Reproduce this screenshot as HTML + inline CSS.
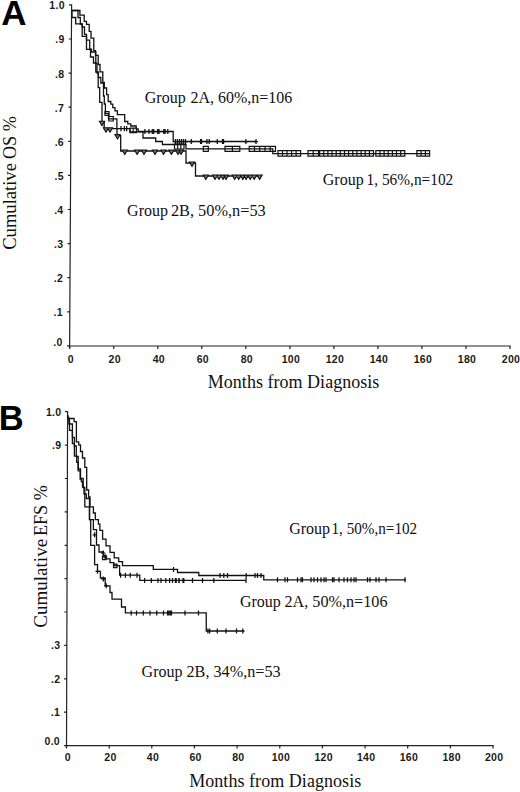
<!DOCTYPE html>
<html><head><meta charset="utf-8"><style>
html,body{margin:0;padding:0;background:#fff;width:520px;height:792px;overflow:hidden}
svg{display:block}
.big{font-family:"Liberation Sans",sans-serif;font-weight:bold;font-size:35px;fill:#000}
.bigb{font-family:"Liberation Sans",sans-serif;font-weight:bold;font-size:34.5px;fill:#000}
.tk{font-family:"Liberation Sans",sans-serif;font-size:10.5px;font-weight:bold;letter-spacing:0.3px;fill:#1a1a1a}
.ttl{font-family:"Liberation Serif",serif;font-size:18px;fill:#111}
.yt{font-family:"Liberation Serif",serif;font-size:19px;fill:#111}
.grp{font-family:"Liberation Serif",serif;font-size:16px;fill:#111}
.c{fill:none;stroke:#111;stroke-width:1.3}
.ax{fill:none;stroke:#222;stroke-width:1.2}
.m{fill:none;stroke:#111;stroke-width:1.25}
.sqm{fill:none;stroke:#111;stroke-width:1.2}
.trm{fill:#777;stroke:#111;stroke-width:1.1}
</style></head><body>
<svg width="520" height="792" viewBox="0 0 520 792">

<text class="big" x="1.3" y="25">A</text>
<text class="bigb" x="-1.2" y="430">B</text>
<path class="ax" d="M71.6,4.5 L69.6,348.5 M69.0,346 H510.6"/>
<path class="ax" d="M67.0,345.9 H69.6 M67.2,311.8 H69.8 M67.4,277.7 H70.0 M67.6,243.6 H70.2 M67.8,209.5 H70.4 M68.0,175.4 H70.6 M68.2,141.3 H70.8 M68.4,107.2 H71.0 M68.6,73.1 H71.2 M68.8,39.0 H71.4 M69.0,4.9 H71.6 M69.7,346 V349 M113.7,346 V349 M157.8,346 V349 M201.8,346 V349 M245.8,346 V349 M289.9,346 V349 M333.9,346 V349 M377.9,346 V349 M421.9,346 V349 M466.0,346 V349 M510.0,346 V349"/>
<text class="tk" x="62.7" y="345.7" text-anchor="end">.0</text>
<text class="tk" x="62.9" y="316.2" text-anchor="end">.1</text>
<text class="tk" x="63.1" y="282.1" text-anchor="end">.2</text>
<text class="tk" x="63.3" y="248.0" text-anchor="end">.3</text>
<text class="tk" x="63.5" y="213.9" text-anchor="end">.4</text>
<text class="tk" x="63.8" y="179.8" text-anchor="end">.5</text>
<text class="tk" x="64.0" y="145.7" text-anchor="end">.6</text>
<text class="tk" x="64.2" y="111.6" text-anchor="end">.7</text>
<text class="tk" x="64.4" y="77.5" text-anchor="end">.8</text>
<text class="tk" x="64.6" y="43.4" text-anchor="end">.9</text>
<text class="tk" x="64.8" y="9.3" text-anchor="end">1.0</text>
<text class="tk" x="70.7" y="363.2" text-anchor="middle">0</text>
<text class="tk" x="114.7" y="363.2" text-anchor="middle">20</text>
<text class="tk" x="158.8" y="363.2" text-anchor="middle">40</text>
<text class="tk" x="202.8" y="363.2" text-anchor="middle">60</text>
<text class="tk" x="246.8" y="363.2" text-anchor="middle">80</text>
<text class="tk" x="290.9" y="363.2" text-anchor="middle">100</text>
<text class="tk" x="334.9" y="363.2" text-anchor="middle">120</text>
<text class="tk" x="378.9" y="363.2" text-anchor="middle">140</text>
<text class="tk" x="422.9" y="363.2" text-anchor="middle">160</text>
<text class="tk" x="467.0" y="363.2" text-anchor="middle">180</text>
<text class="tk" x="511.0" y="363.2" text-anchor="middle">200</text>
<text class="ttl" x="207.8" y="387.6" textLength="171.5">Months from Diagnosis</text>
<text class="yt" transform="translate(15.6,249.8) rotate(-90)" textLength="86.7" lengthAdjust="spacingAndGlyphs">Cumulative</text>
<text class="yt" transform="translate(15.6,159.1) rotate(-90)" textLength="42.9" lengthAdjust="spacingAndGlyphs">OS&#160;%</text>
<path class="ax" d="M67.6,411 L66.5,748 M66,745.6 H493.6"/>
<path class="ax" d="M63.9,745.6 H66.5 M64.0,712.2 H66.6 M64.1,678.8 H66.7 M64.2,645.4 H66.8 M64.3,612.0 H66.9 M64.5,578.6 H67.0 M64.6,545.3 H67.2 M64.7,511.9 H67.3 M64.8,478.5 H67.4 M64.9,445.1 H67.5 M65.0,411.7 H67.6 M66.5,745.6 V748.6 M109.2,745.6 V748.6 M151.8,745.6 V748.6 M194.4,745.6 V748.6 M237.1,745.6 V748.6 M279.8,745.6 V748.6 M322.4,745.6 V748.6 M365.1,745.6 V748.6 M407.7,745.6 V748.6 M450.4,745.6 V748.6 M493.0,745.6 V748.6"/>
<text class="tk" x="60.0" y="745.2" text-anchor="end">0.0</text>
<text class="tk" x="60.1" y="716.2" text-anchor="end">.1</text>
<text class="tk" x="60.3" y="682.8" text-anchor="end">.2</text>
<text class="tk" x="60.4" y="649.4" text-anchor="end">.3</text>
<text class="tk" x="61.3" y="449.1" text-anchor="end">.9</text>
<text class="tk" x="61.4" y="416.2" text-anchor="end">1.0</text>
<text class="tk" x="67.7" y="761.3" text-anchor="middle">0</text>
<text class="tk" x="110.4" y="761.3" text-anchor="middle">20</text>
<text class="tk" x="153.0" y="761.3" text-anchor="middle">40</text>
<text class="tk" x="195.6" y="761.3" text-anchor="middle">60</text>
<text class="tk" x="238.3" y="761.3" text-anchor="middle">80</text>
<text class="tk" x="280.9" y="761.3" text-anchor="middle">100</text>
<text class="tk" x="323.6" y="761.3" text-anchor="middle">120</text>
<text class="tk" x="366.2" y="761.3" text-anchor="middle">140</text>
<text class="tk" x="408.9" y="761.3" text-anchor="middle">160</text>
<text class="tk" x="451.6" y="761.3" text-anchor="middle">180</text>
<text class="tk" x="494.2" y="761.3" text-anchor="middle">200</text>
<text class="ttl" x="189.2" y="787.3" textLength="172">Months from Diagnosis</text>
<text class="yt" transform="translate(47.3,627.7) rotate(-90)" textLength="88.8" lengthAdjust="spacingAndGlyphs">Cumulative</text>
<text class="yt" transform="translate(47.3,536) rotate(-90)" textLength="50.7" lengthAdjust="spacingAndGlyphs">EFS&#160;%</text>
<text class="grp" x="144.8" y="102.8">Group</text>
<text class="grp" x="190.5" y="102.8" textLength="101.8" lengthAdjust="spacingAndGlyphs">2A, 60%,n=106</text>
<text class="grp" x="322.8" y="185">Group</text>
<text class="grp" x="366.6" y="185" textLength="86.7" lengthAdjust="spacingAndGlyphs">1, 56%,n=102</text>
<text class="grp" x="127.1" y="215.5">Group</text>
<text class="grp" x="170.9" y="215.5" textLength="94.9" lengthAdjust="spacingAndGlyphs">2B, 50%,n=53</text>
<text class="grp" x="289.2" y="533.8">Group</text>
<text class="grp" x="331.5" y="533.8" textLength="85.7" lengthAdjust="spacingAndGlyphs">1, 50%,n=102</text>
<text class="grp" x="239.9" y="607">Group</text>
<text class="grp" x="284.5" y="607" textLength="103" lengthAdjust="spacingAndGlyphs">2A, 50%,n=106</text>
<text class="grp" x="141.6" y="677">Group</text>
<text class="grp" x="186.5" y="677" textLength="94.2" lengthAdjust="spacingAndGlyphs">2B, 34%,n=53</text>
<path class="c" d="M72,10.5 H79.9 V15.2 H84.2 V21.3 H86.5 V24.4 H89.2 V31.3 H91 V38.2 H93.8 V50.7 H95.5 V55.3 H98.2 V64.5 H100 V71.8 H102.8 V82.3 H104.3 V88 H106.6 V94.6 H108.2 V101.5 H110.8 V104.2 H112.8 V107.7 H115 V110.8 H117.4 V114.6 H124.7 V121.5 H127.8 V123.8 H130.8 V126 H136.2 V128.8 H138.2 V131.5 H173.2 V141.5 H256.6"/>
<path class="c" d="M72,10.5 H78 V17.5 H80.3 V24 H82.2 V27 H84.5 V34.4 H86.5 V40.2 H89.7 V49.2 H91.5 V52 H95.8 V63.4 H97 V73 H98.4 V77.5 H100.8 V83 H103.5 V96 H104.3 V104 H105.4 V113.5 H108.5 V118.8 H116.9 V128.7 H130 V131.8 H143 V138 H155.7 V141.5 H162.4 V144.5 H186 V148.8 H272.8 V153.6 H429.6"/>
<path class="c" d="M72,10.5 V17.5 H75.7 V23.8 H82.2 V36.3 H86.5 V49.4 H90.5 V57 H93.5 V63 H95.8 V72 H98.2 V87.7 H99.7 V102.3 H102 V122.5 H104.2 V128.7 H117 V135.6 H120.7 V151 H186 V163 H195.5 V176 H261.5"/>
<path class="m" d="M121.0,126.1 V131.3 M124.4,126.1 V131.3 M126.7,126.1 V131.3 M144.9,129.0 V134.0 M142.9,131.5 H146.9 M149.0,129.0 V134.0 M147.0,131.5 H151.0 M152.3,129.0 V134.0 M150.3,131.5 H154.3 M153.7,129.0 V134.0 M151.7,131.5 H155.7 M157.7,129.0 V134.0 M155.7,131.5 H159.7 M159.0,129.0 V134.0 M157.0,131.5 H161.0 M163.8,129.0 V134.0 M161.8,131.5 H165.8 M165.1,129.0 V134.0 M163.1,131.5 H167.1 M167.8,129.0 V134.0 M165.8,131.5 H169.8 M175.5,139.0 V144.0 M173.5,141.5 H177.5 M177.5,139.0 V144.0 M175.5,141.5 H179.5 M179.5,139.0 V144.0 M177.5,141.5 H181.5 M181.5,139.0 V144.0 M179.5,141.5 H183.5 M183.5,139.0 V144.0 M181.5,141.5 H185.5 M185.5,139.0 V144.0 M183.5,141.5 H187.5 M191.3,139.0 V144.0 M189.3,141.5 H193.3 M200.6,139.0 V144.0 M198.6,141.5 H202.6 M201.5,139.0 V144.0 M199.5,141.5 H203.5 M206.9,139.0 V144.0 M204.9,141.5 H208.9 M209.2,139.0 V144.0 M207.2,141.5 H211.2 M217.3,139.0 V144.0 M215.3,141.5 H219.3 M222.5,139.0 V144.0 M220.5,141.5 H224.5 M223.5,139.0 V144.0 M221.5,141.5 H225.5 M245.9,139.0 V144.0 M243.9,141.5 H247.9 M256.0,139.0 V144.0 M254.0,141.5 H258.0"/>
<path class="sqm" d="M108.8,116.5 h4.5 v4.5 h-4.5 Z M105.0,111.5 h4 v4 h-4 Z M130.0,128.1 H136.5 V132.6 H130.0 Z M133.2,128.1 V132.6 M174.5,144.0 H184.0 V149.0 H174.5 Z M177.7,144.0 V149.0 M180.8,144.0 V149.0 M203.3,146.3 h5 v5 h-5 Z M225.0,146.3 H239.8 V151.3 H225.0 Z M232.4,146.3 V151.3 M249.2,146.3 H275.5 V151.3 H249.2 Z M254.5,146.3 V151.3 M259.7,146.3 V151.3 M265.0,146.3 V151.3 M270.2,146.3 V151.3 M278.0,150.6 H300.6 V156.2 H278.0 Z M282.5,150.6 V156.2 M287.0,150.6 V156.2 M291.6,150.6 V156.2 M296.1,150.6 V156.2 M308.0,150.6 H318.5 V156.2 H308.0 Z M313.2,150.6 V156.2 M319.6,150.6 H373.5 V156.2 H319.6 Z M323.7,150.6 V156.2 M327.9,150.6 V156.2 M332.0,150.6 V156.2 M336.2,150.6 V156.2 M340.3,150.6 V156.2 M344.5,150.6 V156.2 M348.6,150.6 V156.2 M352.8,150.6 V156.2 M356.9,150.6 V156.2 M361.1,150.6 V156.2 M365.2,150.6 V156.2 M369.4,150.6 V156.2 M375.8,150.6 H404.8 V156.2 H375.8 Z M379.9,150.6 V156.2 M384.1,150.6 V156.2 M388.2,150.6 V156.2 M392.4,150.6 V156.2 M396.5,150.6 V156.2 M400.7,150.6 V156.2 M416.9,150.6 H429.6 V156.2 H416.9 Z M421.1,150.6 V156.2 M425.4,150.6 V156.2"/>
<path class="trm" d="M99.4,121.3 H104.6 L102.0,125.7 Z M103.4,127.7 H108.6 L106.0,132.1 Z M107.4,127.7 H112.6 L110.0,132.1 Z M114.9,134.6 H120.1 L117.5,139.0 Z M122.2,150.0 H127.4 L124.8,154.4 Z M134.5,150.0 H139.7 L137.1,154.4 Z M141.4,150.0 H146.6 L144.0,154.4 Z M152.4,150.0 H157.6 L155.0,154.4 Z M160.9,150.0 H166.1 L163.5,154.4 Z M168.8,150.0 H174.0 L171.4,154.4 Z M175.4,150.0 H180.6 L178.0,154.4 Z M178.4,150.0 H183.6 L181.0,154.4 Z M189.4,162.0 H194.6 L192.0,166.4 Z M203.2,175.0 H208.4 L205.8,179.4 Z M212.4,175.0 H217.6 L215.0,179.4 Z M216.4,175.0 H221.6 L219.0,179.4 Z M220.4,175.0 H225.6 L223.0,179.4 Z M223.4,175.0 H228.6 L226.0,179.4 Z M232.1,175.0 H237.3 L234.7,179.4 Z M236.1,175.0 H241.3 L238.7,179.4 Z M240.2,175.0 H245.4 L242.8,179.4 Z M243.5,175.0 H248.7 L246.1,179.4 Z M247.6,175.0 H252.8 L250.2,179.4 Z M251.6,175.0 H256.8 L254.2,179.4 Z M257.0,175.0 H262.2 L259.6,179.4 Z"/>
<path class="c" d="M67.8,415.4 V418.5 H74.1 V421.7 H76.4 V441.9 H78.7 V444.8 H80.5 V451.5 H82.5 V458 H84.8 V467.3 H86.7 V490 H88.6 V497 H90 V506.9 H93.4 V513 H95.3 V519.6 H98.4 V524.2 H99.9 V530.4 H102.6 V539.2 H106 V545.8 H110 V552.3 H114.2 V557.9 H118.7 V561.7 H122.5 V565.6 H153.3 V569.4 H177.5 V572.5 H198.75 V575.5 H263.75 V579.8 H406"/>
<path class="c" d="M67.8,415.4 V418.5 H69.5 V424 H72.4 V437.3 H74.4 V446 H76.3 V456.5 H78.2 V469 H80.5 V478.5 H83.2 V487.7 H84.8 V493.8 H86.3 V498.5 H89.5 V519.6 H93.4 V529.6 H96.5 V545 H99 V552 H103.4 V555.5 H106 V558.8 H110 V562.7 H113.8 V565.6 H119.6 V568.5 V575.2 H139.8 V580.4 H246"/>
<path class="c" d="M67.8,415.4 V418.5 H68.9 V424 H69.5 V430.4 H72.4 V443.7 H74.4 V456.2 H76.7 V462.3 H78.2 V470.8 H80.2 V479.2 H81.3 V481.5 H82.5 V487 H84 V493.8 H84.8 V506.9 H89.5 V519.6 H90.7 V545.4 H94.6 V564.6 H97.5 V571.3 H100.4 V578 H105.2 V585.8 H110 V592.5 H112 V599.2 H121.5 V607 H125.4 V612.9 H206.25 V631 H244.5"/>
<path class="m" d="M173.5,566.9 V571.9 M220.0,573.0 V578.0 M223.8,573.0 V578.0 M227.5,573.0 V578.0 M246.2,573.0 V578.0 M255.0,573.0 V578.0 M257.5,573.0 V578.0 M261.0,573.0 V578.0 M277.5,577.3 V582.3 M285.0,577.3 V582.3 M287.5,577.3 V582.3 M297.5,577.3 V582.3 M301.0,577.3 V582.3 M302.5,577.3 V582.3 M311.0,577.3 V582.3 M314.0,577.3 V582.3 M317.5,577.3 V582.3 M321.0,577.3 V582.3 M324.0,577.3 V582.3 M326.0,577.3 V582.3 M332.5,577.3 V582.3 M334.0,577.3 V582.3 M339.0,577.3 V582.3 M344.0,577.3 V582.3 M347.5,577.3 V582.3 M351.0,577.3 V582.3 M354.0,577.3 V582.3 M356.0,577.3 V582.3 M367.5,577.3 V582.3 M370.0,577.3 V582.3 M376.0,577.3 V582.3 M379.0,577.3 V582.3 M386.0,577.3 V582.3 M405.0,577.3 V582.3 M120.6,572.7 V577.7 M125.4,572.7 V577.7 M130.2,572.7 V577.7 M137.0,572.7 V577.7 M144.6,577.9 V582.9 M151.3,577.9 V582.9 M158.0,577.9 V582.9 M161.0,577.9 V582.9 M165.8,577.9 V582.9 M169.6,577.9 V582.9 M172.5,577.9 V582.9 M175.4,577.9 V582.9 M176.2,577.9 V582.9 M178.8,577.9 V582.9 M179.2,577.9 V582.9 M183.0,577.9 V582.9 M183.8,577.9 V582.9 M192.5,577.9 V582.9 M202.5,577.9 V582.9 M213.8,577.9 V582.9 M246.0,577.9 V582.9 M131.2,610.4 V615.4 M136.5,610.4 V615.4 M143.3,610.4 V615.4 M150.0,610.4 V615.4 M156.7,610.4 V615.4 M163.5,610.4 V615.4 M167.5,610.4 V615.4 M168.8,610.4 V615.4 M170.2,610.4 V615.4 M171.5,610.4 V615.4 M185.0,610.4 V615.4 M198.5,610.4 V615.4 M207.9,628.5 V633.5 M209.6,628.5 V633.5 M217.3,628.5 V633.5 M226.0,628.5 V633.5 M236.5,628.5 V633.5 M242.8,628.5 V633.5 M97.5,568.8 V573.8 M95.5,571.3 H99.5 M103.3,576.5 V581.5 M101.3,579.0 H105.3 M106.2,583.3 V588.3 M104.2,585.8 H108.2 M94.6,532.3 V537.3 M92.6,534.8 H96.6 M103.3,550.5 V555.5 M101.3,553.0 H105.3 M105.2,554.5 V559.5 M103.2,557.0 H107.2"/>
<path class="sqm" d="M102.5,556.1 h3.5 v3.5 h-3.5 Z M113.5,564.2 h3.5 v3.5 h-3.5 Z"/>
</svg></body></html>
